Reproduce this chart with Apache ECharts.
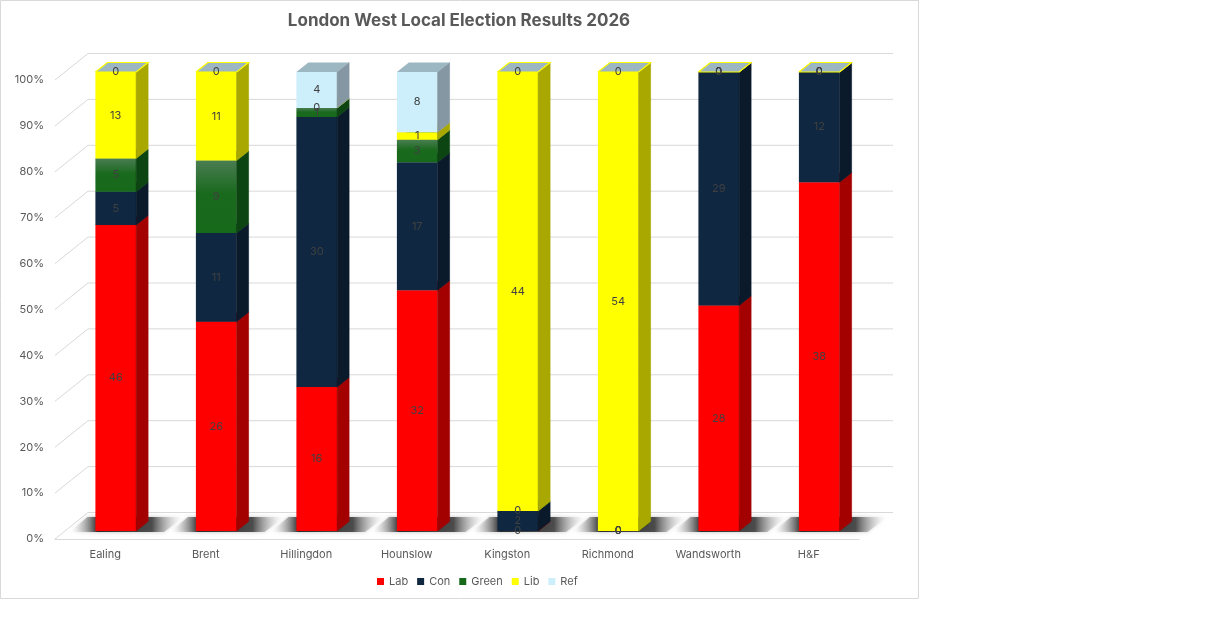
<!DOCTYPE html>
<html>
<head>
    <meta charset="utf-8">
    <title>London West Local Election Results 2026</title>
    <script src="https://cdn.jsdelivr.net/npm/echarts@6.0.0/dist/echarts.min.js"></script>
    <style>
        html, body { margin: 0; padding: 0; background: #fff; }
        #chart { width: 1228px; height: 628px; }
    </style>
</head>
<body>
    <div id="chart"></div>
    <script>
        // seats won per borough
        var boroughs = ['Ealing', 'Brent', 'Hillingdon', 'Hounslow', 'Kingston', 'Richmond', 'Wandsworth', 'H&F'];
        var parties = ['Lab', 'Con', 'Green', 'Lib', 'Ref'];
        var lab = [46, 26, 16, 32, 0, 0, 28, 38];
        var con = [5, 11, 30, 17, 2, 0, 29, 12];
        var green = [5, 9, 1, 3, 0, 0, 0, 0];
        var lib = [13, 11, 0, 1, 44, 54, 0, 0];
        var ref = [0, 0, 4, 8, 0, 0, 0, 0];
        var wallTicks = [0, 0.1, 0.2, 0.3, 0.4, 0.5, 0.6, 0.7, 0.8, 0.9, 1];

        var seats = [lab, con, green, lib, ref];

        // colours: front face, side face, top face
        var faces = {
            Lab:   { front: '#FF0000', side: '#A30000', top: '#C00000' },
            Con:   { front: '#0F2740', side: '#0A1A2B', top: '#1B3550' },
            Green: { front: new echarts.graphic.LinearGradient(0, 0, 0, 1, [
                        { offset: 0, color: '#4A7D52' },
                        { offset: 0.45, color: '#1A6A1E' },
                        { offset: 1, color: '#17691A' }
                     ]), side: '#0D4512', top: '#2F6B33', legend: '#17691A' },
            Lib:   { front: '#FFFF00', side: '#A8A800', top: '#D6D600' },
            Ref:   { front: '#CDEEFB', side: '#8597A3', top: '#9CB6C2' }
        };

        // stacked percentage bounds built from the seat counts
        var totals = boroughs.map(function (b, i) {
            var t = 0;
            seats.forEach(function (s) { t += s[i]; });
            return t;
        });
        var stackData = parties.map(function () { return []; });
        boroughs.forEach(function (b, i) {
            var acc = 0;
            seats.forEach(function (s, k) {
                var start = acc / totals[i];
                acc += s[i];
                stackData[k].push([i, start, acc / totals[i], s[i]]);
            });
        });

        // 3d offsets (px)
        var FX = 10.5, FY = -8;      // bar front face offset from front plane
        var DX = 12, DY = -9.5;      // bar depth
        var WX = 33, WY = -26.5;     // back wall depth

        function segRenderer(name) {
            var f = faces[name];
            return function (params, api) {
                var cat = api.value(0), s = api.value(1), e = api.value(2), n = api.value(3);
                var band = api.size([1, 0])[0];
                var w = band * 0.405;
                var pb = api.coord([cat, s]);
                var pt = api.coord([cat, e]);
                var x0 = pb[0] - w / 2 + FX, x1 = x0 + w;
                var y0 = pb[1] + FY, y1 = pt[1] + FY;
                var children = [
                    { type: 'rect', shape: { x: x0, y: y1, width: w, height: Math.max(y0 - y1, 0) },
                      style: { fill: f.front } },
                    { type: 'polygon', shape: { points: [[x1, y0], [x1 + DX, y0 + DY], [x1 + DX, y1 + DY], [x1, y1]] },
                      style: { fill: f.side, stroke: f.side, lineWidth: 0.6 } },
                    { type: 'polygon', shape: { points: [[x0, y1], [x1, y1], [x1 + DX, y1 + DY], [x0 + DX, y1 + DY]] },
                      style: { fill: f.top } }
                ];
                // Lib outline shows on the top of stacks it finishes
                if (name === 'Lib' && e > 0.9999) {
                    children.push({ type: 'polyline', z2: 50,
                        shape: { points: [[x0, y1], [x1, y1], [x1 + DX, y1 + DY], [x0 + DX, y1 + DY], [x0, y1]] },
                        style: { stroke: '#FFFF00', lineWidth: 1.2, fill: null } });
                }
                children.push({ type: 'text', z2: 100,
                    style: { text: String(n), x: (x0 + x1) / 2, y: (y0 + y1) / 2, align: 'center', verticalAlign: 'middle',
                             fill: '#404040', font: '11px Inter, "Noto Sans", sans-serif' } });
                return { type: 'group', children: children };
            };
        }

        var series = [];

        // back wall grid lines and left wall diagonals
        series.push({
            type: 'custom',
            silent: true,
            z: 0,
            data: wallTicks.map(function (v) { return [0, v]; }),
            encode: { x: 0, y: 1 },
            renderItem: function (params, api) {
                var cs = params.coordSys;
                var y = api.coord([0, api.value(1)])[1];
                return {
                    type: 'polyline',
                    shape: { points: [[cs.x, y], [cs.x + WX, y + WY], [cs.x + cs.width + WX + 1, y + WY]] },
                    style: { stroke: '#D9D9D9', lineWidth: 1, fill: null }
                };
            }
        });

        // floor shadows under each bar
        series.push({
            type: 'custom',
            silent: true,
            z: 1,
            data: boroughs.map(function (b, i) { return [i, 0]; }),
            encode: { x: 0, y: 1 },
            renderItem: function (params, api) {
                var band = api.size([1, 0])[0];
                var w = band * 0.405;
                var p = api.coord([api.value(0), 0]);
                var x0 = p[0] - w / 2 + FX, x1 = x0 + w, yb = p[1] + FY + 1;
                return {
                    type: 'polygon',
                    shape: { points: [[x0 - 26, yb], [x1 + 28, yb], [x1 + 48, yb - 15], [x0 - 8, yb - 15]] },
                    style: {
                        fill: new echarts.graphic.LinearGradient(0, 0, 1, 0, [
                            { offset: 0, color: 'rgba(255,255,255,0)' },
                            { offset: 0.25, color: 'rgba(25,25,25,0.9)' },
                            { offset: 0.72, color: 'rgba(45,45,45,0.8)' },
                            { offset: 1, color: 'rgba(255,255,255,0)' }
                        ]),
                        shadowBlur: 4,
                        shadowColor: 'rgba(0,0,0,0.3)'
                    }
                };
            }
        });

        parties.forEach(function (p, k) {
            series.push({
                name: p,
                type: 'custom',
                z: 2,
                itemStyle: { color: faces[p].legend || faces[p].front },
                data: stackData[k],
                encode: { x: 0, y: [1, 2] },
                renderItem: segRenderer(p)
            });
        });

        var chart = echarts.init(document.getElementById('chart'));
        chart.setOption({
            animation: false,
            textStyle: { fontFamily: 'Inter, "Noto Sans", sans-serif' },
            graphic: [
                { type: 'rect', z: -10, silent: true,
                  shape: { x: 0.5, y: 0.5, width: 918, height: 598 },
                  style: { fill: '#fff', stroke: '#D9D9D9', lineWidth: 1 } },
                { type: 'text', silent: true, x: 459, y: 21,
                  style: { text: 'London West Local Election Results 2026', align: 'center', verticalAlign: 'middle',
                           fill: '#595959', font: 'bold 17px Inter, "Noto Sans", sans-serif' } }
            ],
            legend: {
                data: parties,
                left: 372,
                top: 571,
                icon: 'rect',
                itemWidth: 7,
                itemHeight: 7,
                itemGap: 9,
                textStyle: { color: '#595959', fontSize: 11 }
            },
            grid: { left: 55, right: 369, top: 80, bottom: 89 },
            xAxis: {
                type: 'category',
                data: boroughs,
                axisLine: { lineStyle: { color: '#D9D9D9' } },
                axisTick: { show: false },
                axisLabel: { color: '#595959', fontSize: 11, margin: 10 }
            },
            yAxis: {
                type: 'value',
                min: 0,
                max: 1,
                interval: 0.1,
                splitLine: { show: false },
                axisLine: { show: false },
                axisTick: { show: false },
                axisLabel: {
                    color: '#595959', fontSize: 11, margin: 11,
                    formatter: function (v) { return Math.round(v * 100) + '%'; }
                }
            },
            series: series
        });
    </script>
</body>
</html>
